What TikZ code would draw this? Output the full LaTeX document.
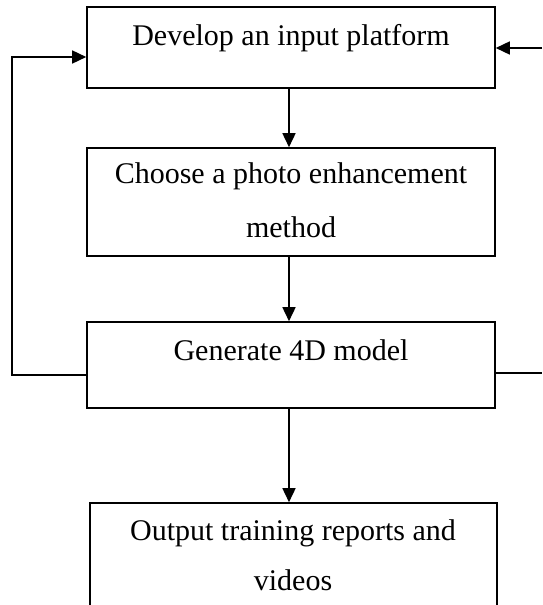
\documentclass[tikz,border=0pt]{standalone}
\usepackage{fontspec}
\setmainfont{Liberation Serif}
\usetikzlibrary{arrows.meta}
\begin{document}
\begin{tikzpicture}[x=1pt,y=-1pt,
  box/.style={draw=black,line width=1.6pt,rectangle,inner sep=0pt},
  txt/.style={anchor=base,inner sep=0pt,font=\fontsize{30}{52}\selectfont},
  ln/.style={draw=black,line width=1.6pt},
  arr/.style={ln,-{Triangle[length=14pt,width=13pt]}}]
\useasboundingbox (0,0) rectangle (542,605);
\clip (0,0) rectangle (542,605);
% boxes
\node[box,minimum width=408pt,minimum height=81pt] (b1) at (291,47.5) {};
\node[box,minimum width=408pt,minimum height=108pt] (b2) at (291,202) {};
\node[box,minimum width=408pt,minimum height=86pt] (b3) at (291,365) {};
\node[box,minimum width=407pt,minimum height=140pt] (b4) at (293.5,573) {};
% texts
\node[txt] (t1) at (291,45) {Develop an input platform};
\node[txt] (t2a) at (291,183) {Choose a photo enhancement};
\node[txt] (t2b) at (291,237) {method};
\node[txt] (t3) at (291,360) {Generate 4D model};
\node[txt] (t4a) at (293,540) {Output training reports and};
\node[txt] (t4b) at (293,590) {videos};
% helper coordinates
\coordinate (ax) at (289,0);
\coordinate (l1) at (12,375);
\coordinate (l2) at (12,57);
\coordinate (r1) at (542,373);
\coordinate (r2) at (542,48);
% connectors
\draw[arr] (b1.south -| ax) -- (b2.north -| ax);
\draw[arr] (b2.south -| ax) -- (b3.north -| ax);
\draw[arr] (b3.south -| ax) -- (b4.north -| ax);
\draw[arr] (b3.west |- l1) -- (l1) -- (l2) -- (b1.west |- l2);
\draw[ln] (b3.east |- r1) -- (r1);
\draw[arr] (r2) -- (b1.east |- r2);
\end{tikzpicture}
\end{document}
